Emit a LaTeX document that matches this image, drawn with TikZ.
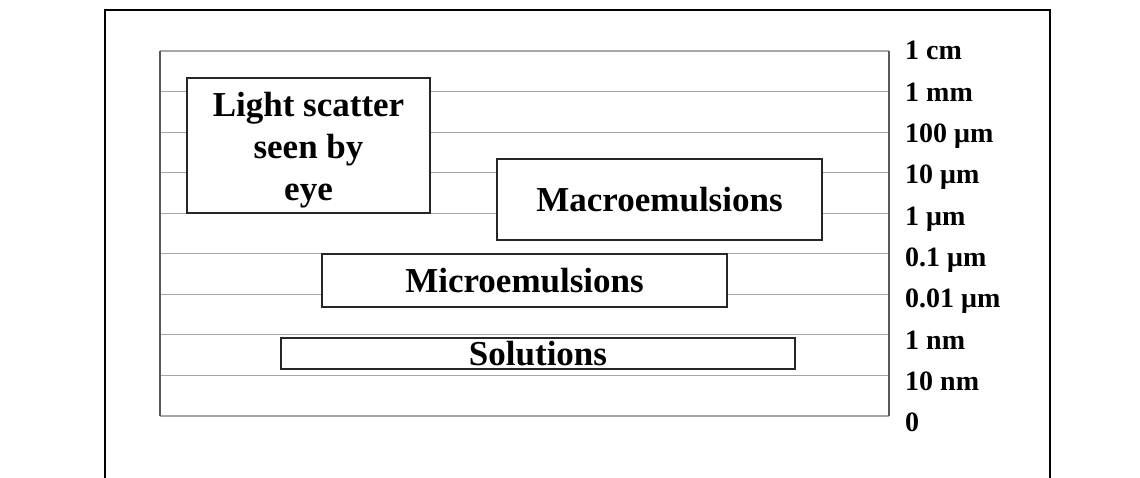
\documentclass[tikz,border=0pt]{standalone}
\usepackage{fontspec}
\setmainfont{Liberation Serif}
\usetikzlibrary{positioning}
\tikzset{line width=1.0pt}
\tikzset{
  gridline/.style={draw=black!35, line width=1.1pt},
  sideline/.style={draw=black!65, line width=1.1pt},
  rangebox/.style={draw=black!85, fill=white, line width=1.3pt, inner sep=0pt, align=center,
    font=\fontsize{35}{42}\selectfont\bfseries},
  sizelabel/.style={anchor=base west, inner sep=0pt, font=\fontsize{28}{30}\selectfont\bfseries}
}

\begin{document}
\begin{tikzpicture}[x=1pt,y=-1pt]
  \useasboundingbox (0,0) rectangle (1140,478);
  \def\xl{160}
  \def\xr{889}
  \def\ytop{51}
  \def\ystep{40.56}
  \def\xlab{905}
  \def\ylab{60}
  \def\lstep{41.3}

  % outer frame (open at the bottom)
  \coordinate (fbl) at (105,478);
  \coordinate (ftl) at (105,10);
  \coordinate (ftr) at (1050,10);
  \coordinate (fbr) at (1050,478);
  \draw[line width=1.4pt] (fbl) -- (ftl) -- (ftr) -- (fbr);

  % scale lines
  \coordinate (a0) at (\xl,\ytop+0*\ystep);  \coordinate (b0) at (\xr,\ytop+0*\ystep);
  \coordinate (a1) at (\xl,\ytop+1*\ystep);  \coordinate (b1) at (\xr,\ytop+1*\ystep);
  \coordinate (a2) at (\xl,\ytop+2*\ystep);  \coordinate (b2) at (\xr,\ytop+2*\ystep);
  \coordinate (a3) at (\xl,\ytop+3*\ystep);  \coordinate (b3) at (\xr,\ytop+3*\ystep);
  \coordinate (a4) at (\xl,\ytop+4*\ystep);  \coordinate (b4) at (\xr,\ytop+4*\ystep);
  \coordinate (a5) at (\xl,\ytop+5*\ystep);  \coordinate (b5) at (\xr,\ytop+5*\ystep);
  \coordinate (a6) at (\xl,\ytop+6*\ystep);  \coordinate (b6) at (\xr,\ytop+6*\ystep);
  \coordinate (a7) at (\xl,\ytop+7*\ystep);  \coordinate (b7) at (\xr,\ytop+7*\ystep);
  \coordinate (a8) at (\xl,\ytop+8*\ystep);  \coordinate (b8) at (\xr,\ytop+8*\ystep);
  \coordinate (a9) at (\xl,\ytop+9*\ystep);  \coordinate (b9) at (\xr,\ytop+9*\ystep);
  \foreach \i in {0,...,9} {
    \draw[gridline] (a\i) -- (b\i);
  }
  \draw[sideline] (a0) -- (a9);
  \draw[sideline] (b0) -- (b9);

  % size labels
  \node[sizelabel] (l0) at (\xlab,\ylab+0*\lstep) {1 cm};
  \node[sizelabel] (l1) at (\xlab,\ylab+1*\lstep) {1 mm};
  \node[sizelabel] (l2) at (\xlab,\ylab+2*\lstep) {100 μm};
  \node[sizelabel] (l3) at (\xlab,\ylab+3*\lstep) {10 μm};
  \node[sizelabel] (l4) at (\xlab,\ylab+4*\lstep) {1 μm};
  \node[sizelabel] (l5) at (\xlab,\ylab+5*\lstep) {0.1 μm};
  \node[sizelabel] (l6) at (\xlab,\ylab+6*\lstep) {0.01 μm};
  \node[sizelabel] (l7) at (\xlab,\ylab+7*\lstep) {1 nm};
  \node[sizelabel] (l8) at (\xlab,\ylab+8*\lstep) {10 nm};
  \node[sizelabel] (l9) at (\xlab,\ylab+9*\lstep) {0};

  % ranges
  \node[rangebox,minimum width=243,minimum height=135] (eye) at (308.5,145.5) {\rule{0pt}{34pt}Light scatter\\seen by\\eye};
  \node[rangebox,minimum width=325,minimum height=81] (macro) at (659.5,199.5) {Macroemulsions};
  \node[rangebox,minimum width=405,minimum height=53] (micro) at (524.5,280.5) {Microemulsions};
  \node[rangebox,minimum width=514,minimum height=31] (sol) at (538,353.5) {Solutions};
\end{tikzpicture}
\end{document}
